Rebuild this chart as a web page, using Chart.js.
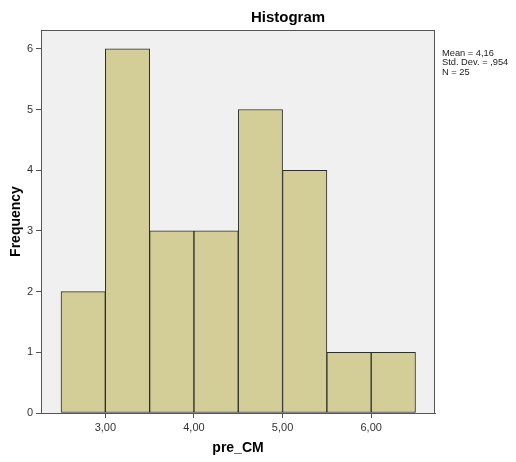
<!DOCTYPE html>
<html>
<head>
<meta charset="utf-8">
<script src="https://cdn.jsdelivr.net/npm/chart.js@4/dist/chart.umd.min.js"></script>
<style>
html,body{margin:0;padding:0;background:#fff;}
#wrap{width:516px;height:462px;position:relative;}
</style>
</head>
<body>
<div id="wrap"><canvas id="c" width="516" height="462"></canvas></div>
<script>
const binCenters = [2.75, 3.25, 3.75, 4.25, 4.75, 5.25, 5.75, 6.25];
const frequencies = [2, 6, 3, 3, 5, 4, 1, 1];
const xTickValues = [3, 4, 5, 6];
const yTickValues = [0, 1, 2, 3, 4, 5, 6];
const chartTitle = 'Histogram';
const xTitle = 'pre_CM';
const yTitle = 'Frequency';
const statsLines = ['Mean = 4,16', 'Std. Dev. = ,954', 'N = 25'];

const FONT = 'Arial, "Liberation Sans", sans-serif';

const decor = {
  id: 'decor',
  beforeDraw(chart) {
    const {ctx, chartArea: a} = chart;
    ctx.save();
    ctx.fillStyle = '#f0f0f0';
    ctx.fillRect(a.left, a.top, a.right - a.left, a.bottom - a.top);
    ctx.restore();
  },
  afterDraw(chart) {
    const {ctx, chartArea: a} = chart;
    ctx.save();
    ctx.strokeStyle = '#555555';
    ctx.lineWidth = 1;
    ctx.strokeRect(a.left + 0.5, a.top + 0.5, a.right - a.left - 1, a.bottom - a.top);
    ctx.fillStyle = '#000';
    ctx.font = 'bold 15px ' + FONT;
    ctx.textAlign = 'center';
    ctx.textBaseline = 'middle';
    ctx.fillText(chartTitle, 288, 18);
    ctx.font = '9.3px ' + FONT;
    ctx.textAlign = 'left';
    ctx.fillStyle = '#222';
    statsLines.forEach((t, i) => ctx.fillText(t, 442, 53 + i * 9.5));
    ctx.restore();
  }
};

new Chart(document.getElementById('c'), {
  type: 'bar',
  data: {
    datasets: [{
      data: binCenters.map((x, i) => ({x: x, y: frequencies[i]})),
      backgroundColor: '#d3ce97',
      borderColor: '#2e2e2e',
      borderWidth: 1,
      barPercentage: 1,
      categoryPercentage: 1,
      borderSkipped: false
    }]
  },
  options: {
    responsive: false,
    animation: false,
    layout: {padding: {top: 30, right: 81, left: 0, bottom: 0}},
    plugins: {legend: {display: false}, tooltip: {enabled: false}, title: {display: false}},
    scales: {
      x: {
        type: 'linear',
        offset: false,
        min: 2.274,
        max: 6.72,
        afterFit(s) { s.height = 49; },
        afterBuildTicks(s) { s.ticks = xTickValues.map(v => ({value: v})); },
        border: {display: true, color: '#555555', width: 1},
        grid: {display: true, offset: false, drawOnChartArea: false, drawTicks: true, tickLength: 5, color: '#555555'},
        ticks: {
          color: '#333',
          font: {family: FONT, size: 11},
          padding: 3,
          maxRotation: 0,
          callback: v => v.toFixed(2).replace('.', ',')
        },
        title: {display: true, text: xTitle, color: '#000', font: {family: FONT, size: 14, weight: 'bold'}, padding: {top: 0, bottom: 5}}
      },
      y: {
        type: 'linear',
        min: 0,
        max: 6.31,
        afterFit(s) { s.width = 41; },
        afterBuildTicks(s) { s.ticks = yTickValues.map(v => ({value: v})); },
        border: {display: true, color: '#555555', width: 1},
        grid: {display: true, drawOnChartArea: false, drawTicks: true, tickLength: 5, color: '#555555'},
        ticks: {
          color: '#333',
          font: {family: FONT, size: 11},
          padding: 3,
          callback: v => String(v)
        },
        title: {display: true, text: yTitle, color: '#000', font: {family: FONT, size: 14, weight: 'bold'}, padding: {top: 8, bottom: 0}}
      }
    }
  },
  plugins: [decor]
});
</script>
</body>
</html>
